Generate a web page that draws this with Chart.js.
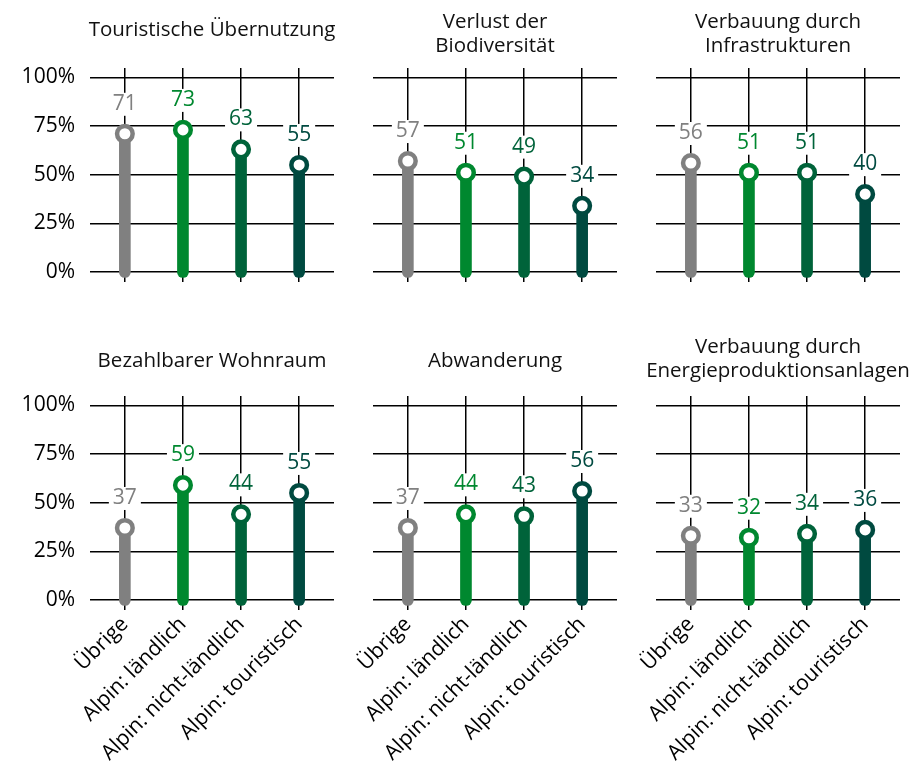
<!DOCTYPE html>
<html>
<head>
<meta charset="utf-8">
<script src="https://cdn.jsdelivr.net/npm/chart.js@4.4.0/dist/chart.umd.min.js"></script>
<style>
    body { margin: 0; background: #fff; }
    #wrap { position: relative; width: 922px; height: 771px; overflow: hidden; }
    #wrap canvas { position: absolute; }
</style>
</head>
<body>
<div id="wrap">
    <canvas id="c0"></canvas>
    <canvas id="c1"></canvas>
    <canvas id="c2"></canvas>
    <canvas id="c3"></canvas>
    <canvas id="c4"></canvas>
    <canvas id="c5"></canvas>
</div>
<script>
const categories = ['Übrige', 'Alpin: ländlich', 'Alpin: nicht-ländlich', 'Alpin: touristisch'];
const yTickValues = [0, 25, 50, 75, 100];

const touristischeUebernutzung = [71, 73, 63, 55];
const verlustBiodiversitaet = [57, 51, 49, 34];
const verbauungInfrastrukturen = [56, 51, 51, 40];
const bezahlbarerWohnraum = [37, 59, 44, 55];
const abwanderung = [37, 44, 43, 56];
const verbauungEnergie = [33, 32, 34, 36];

const panelTitles = [
    ['Touristische Übernutzung'],
    ['Verlust der', 'Biodiversität'],
    ['Verbauung durch', 'Infrastrukturen'],
    ['Bezahlbarer Wohnraum'],
    ['Abwanderung'],
    ['Verbauung durch', 'Energieproduktionsanlagen']
];
const panelValues = [
    touristischeUebernutzung, verlustBiodiversitaet, verbauungInfrastrukturen,
    bezahlbarerWohnraum, abwanderung, verbauungEnergie
];

const colors = ['#808080', '#00882f', '#00633a', '#004a40'];
const FONT = "'Open Sans', 'Noto Sans', sans-serif";

// left edge of each plot area, top of canvas per row
const colLeft = [90, 373, 656];
const rowTop = [0, 328];
const rowHeight = [312, 443];
const AXIS_W = 90, PLOT_W = 244, PAD_R = 20, PLOT_H = 204, PAD_T = 68;

// draws the value above every marker on a white box
const valueLabels = {
    id: 'valueLabels',
    afterDatasetsDraw(chart) {
        const ctx = chart.ctx;
        const meta = chart.getDatasetMeta(1);
        const data = chart.data.datasets[1].data;
        ctx.save();
        ctx.font = '21px ' + FONT;
        ctx.textAlign = 'center';
        ctx.textBaseline = 'middle';
        meta.data.forEach((pt, i) => {
            const txt = String(data[i].y);
            const w = ctx.measureText(txt).width + 8;
            ctx.fillStyle = '#fff';
            ctx.fillRect(pt.x - w / 2, pt.y - 41, w, 23);
            ctx.fillStyle = colors[i];
            ctx.fillText(txt, pt.x, pt.y - 30);
        });
        ctx.restore();
    }
};

// panel title centred over the plot area
const panelTitle = {
    id: 'panelTitle',
    afterDraw(chart, args, opts) {
        const ctx = chart.ctx;
        const a = chart.chartArea;
        const lines = opts.lines;
        const offs = lines.length === 1 ? opts.single : opts.double;
        ctx.save();
        ctx.font = '20.5px ' + FONT;
        ctx.fillStyle = '#111';
        ctx.textAlign = 'center';
        ctx.textBaseline = 'middle';
        lines.forEach((l, i) => ctx.fillText(l, (a.left + a.right) / 2, a.top + offs[i]));
        ctx.restore();
    }
};

function makePanel(idx) {
    const col = idx % 3, row = Math.floor(idx / 3);
    const canvas = document.getElementById('c' + idx);
    const w = AXIS_W + PLOT_W + PAD_R;
    const h = rowHeight[row];
    canvas.width = w;
    canvas.height = h;
    canvas.style.left = (colLeft[col] - AXIS_W) + 'px';
    canvas.style.top = rowTop[row] + 'px';

    const values = panelValues[idx];
    const points = values.map((v, i) => ({ x: i, y: v }));

    new Chart(canvas, {
        data: {
            datasets: [
                {
                    type: 'bar',
                    data: points,
                    backgroundColor: colors,
                    barThickness: 11,
                    borderRadius: 5.5,
                    borderSkipped: false,
                    base: -2.8,
                    grouped: false,
                    clip: false,
                    order: 1
                },
                {
                    type: 'line',
                    data: points,
                    showLine: false,
                    pointRadius: 7.8,
                    pointHoverRadius: 7.8,
                    pointBorderWidth: 4.5,
                    pointBackgroundColor: '#fff',
                    pointBorderColor: colors,
                    clip: false,
                    order: 0
                }
            ]
        },
        options: {
            responsive: false,
            animation: false,
            events: [],
            layout: { padding: { top: PAD_T, right: PAD_R, left: 0, bottom: 0 } },
            plugins: {
                legend: { display: false },
                tooltip: { enabled: false },
                panelTitle: {
                    lines: panelTitles[idx],
                    single: row === 0 ? [-38] : [-35],
                    double: row === 0 ? [-46, -22] : [-49, -25]
                }
            },
            scales: {
                x: {
                    type: 'linear',
                    min: -0.6,
                    max: 3.6,
                    offset: false,
                    // keep the plot bottom fixed, the axis box is taller than the y label overhang
                    afterFit: s => { s.height = h - PAD_T - PLOT_H; },
                    border: { display: false },
                    grid: { color: '#000', lineWidth: 1.5, offset: false, drawTicks: true, tickLength: 10 },
                    ticks: {
                        display: row === 1,
                        stepSize: 1,
                        includeBounds: false,
                        autoSkip: false,
                        minRotation: 45,
                        maxRotation: 45,
                        padding: 2,
                        color: '#000',
                        font: { family: FONT, size: 21 },
                        callback: v => categories[v] || ''
                    }
                },
                y: {
                    min: yTickValues[0],
                    max: 104.8,
                    afterFit: s => { s.width = AXIS_W; },
                    border: { display: false },
                    grid: { color: '#000', lineWidth: 1.5, drawTicks: false },
                    ticks: {
                        display: col === 0,
                        stepSize: 25,
                        includeBounds: false,
                        padding: 15,
                        color: '#000',
                        font: { family: FONT, size: 21 },
                        callback: v => yTickValues.includes(v) ? v + '%' : ''
                    }
                }
            }
        },
        plugins: [valueLabels, panelTitle]
    });
}

for (let i = 0; i < 6; i++) {
    makePanel(i);
}
</script>
</body>
</html>
